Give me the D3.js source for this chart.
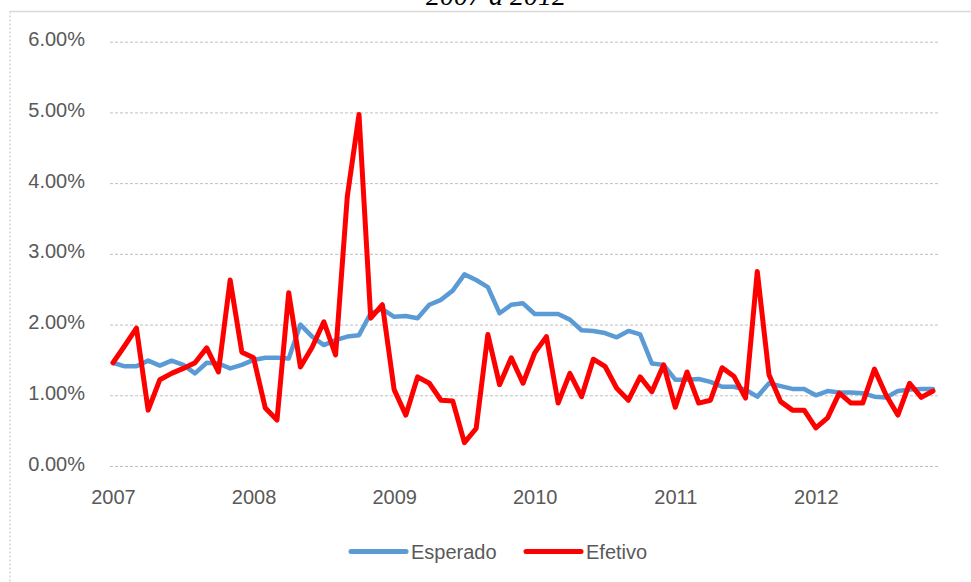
<!DOCTYPE html>
<html>
<head>
<meta charset="utf-8">
<script src="https://cdn.jsdelivr.net/npm/d3@7"></script>
<style>
  html, body { margin: 0; padding: 0; background: #fff; }
  svg { display: block; }
</style>
</head>
<body>
<svg id="chart" width="971" height="582"></svg>
<script>
// ---- data ----
const years = ["2007", "2008", "2009", "2010", "2011", "2012"];
const monthsPerYear = 12;
const pointCount = 71; // Jan 2007 .. Nov 2012
const categories = [];
for (let i = 0; i < pointCount; i++) {
  categories.push(years[Math.floor(i / monthsPerYear)] + "-" + String(i % monthsPerYear + 1).padStart(2, "0"));
}
const esperado = [
  1.46, 1.41, 1.41, 1.49, 1.42, 1.49, 1.43, 1.31, 1.46, 1.45, 1.38, 1.43,
  1.50, 1.53, 1.53, 1.52, 2.00, 1.83, 1.71, 1.78, 1.83, 1.85, 2.16, 2.22,
  2.11, 2.12, 2.09, 2.28, 2.35, 2.48, 2.71, 2.63, 2.53, 2.16, 2.28, 2.30,
  2.15, 2.15, 2.15, 2.07, 1.92, 1.91, 1.88, 1.82, 1.91, 1.86, 1.45, 1.43,
  1.22, 1.22, 1.23, 1.19, 1.12, 1.12, 1.08, 0.98, 1.17, 1.13, 1.09, 1.09,
  1.00, 1.06, 1.04, 1.04, 1.03, 0.98, 0.97, 1.06, 1.08, 1.09, 1.09
];
const efetivo = [
  1.46, 1.70, 1.95, 0.79, 1.22, 1.31, 1.38, 1.46, 1.67, 1.33, 2.63, 1.61,
  1.53, 0.82, 0.65, 2.45, 1.40, 1.68, 2.04, 1.57, 3.81, 4.97, 2.09, 2.28,
  1.08, 0.72, 1.26, 1.17, 0.93, 0.92, 0.33, 0.53, 1.86, 1.15, 1.53, 1.17,
  1.60, 1.83, 0.89, 1.31, 0.98, 1.51, 1.41, 1.10, 0.93, 1.26, 1.05, 1.43,
  0.83, 1.33, 0.89, 0.93, 1.39, 1.27, 0.96, 2.75, 1.29, 0.91, 0.79, 0.79,
  0.54, 0.68, 1.03, 0.89, 0.89, 1.37, 1.00, 0.72, 1.17, 0.97, 1.06
];
const yTicks = [0, 1, 2, 3, 4, 5, 6];
const seriesNames = ["Esperado", "Efetivo"];
const seriesColors = ["#5b9bd5", "#ff0000"];
const titleText = "2007 a 2012";

// ---- chart ----
const svg = d3.select("#chart");
const x = d3.scalePoint().domain(categories).range([113, 933]);
const y = d3.scaleLinear().domain([0, 6]).range([466, 41.7]);
const font = "'Liberation Sans', Arial, sans-serif";

// frame
svg.append("line").attr("x1", 10).attr("x2", 971).attr("y1", 11.5).attr("y2", 11.5)
  .attr("stroke", "#d9d9d9").attr("stroke-width", 1.5);
svg.append("line").attr("x1", 10).attr("x2", 10).attr("y1", 11.5).attr("y2", 582)
  .attr("stroke", "#bfbfbf").attr("stroke-width", 1).attr("stroke-dasharray", "2,2");

// title (cut off at top, as in the source)
svg.append("text").attr("x", 496).attr("y", 5).attr("text-anchor", "middle")
  .attr("font-family", "'Liberation Serif', 'DejaVu Serif', serif")
  .attr("font-style", "italic").attr("font-size", 28).attr("fill", "#000")
  .text(titleText);

// y grid + labels
const yAxis = d3.axisLeft(y).tickValues(yTicks)
  .tickSize(-(938 - 110)).tickPadding(25)
  .tickFormat(d => d3.format(".2f")(d) + "%");
const gy = svg.append("g").attr("transform", "translate(110,0)").call(yAxis);
gy.select(".domain").remove();
gy.selectAll(".tick line").attr("stroke", "#bfbfbf").attr("stroke-dasharray", "3,2");
gy.selectAll(".tick text").attr("font-family", font).attr("font-size", 20)
  .attr("fill", "#595959").attr("dy", "0.2em");

// x axis labels
const xAxis = d3.axisBottom(x)
  .tickValues(categories.filter((c, i) => i % monthsPerYear === 0))
  .tickSize(0).tickPadding(0)
  .tickFormat(c => c.slice(0, 4));
const gx = svg.append("g").attr("transform", "translate(0,466)").call(xAxis);
gx.select(".domain").remove();
gx.selectAll(".tick text").attr("font-family", font).attr("font-size", 20)
  .attr("fill", "#595959").attr("dy", "1.9em");

// lines
const line = d3.line().x((d, i) => x(categories[i])).y(d => y(d));
[esperado, efetivo].forEach((s, k) => {
  svg.append("path").datum(s).attr("d", line)
    .attr("fill", "none").attr("stroke", seriesColors[k])
    .attr("stroke-width", k === 0 ? 4.5 : 5)
    .attr("stroke-linejoin", "round").attr("stroke-linecap", "round");
});

// legend
const legendX = [351, 526];
seriesNames.forEach((name, k) => {
  const g = svg.append("g").attr("transform", `translate(${legendX[k]},551.5)`);
  g.append("line").attr("x1", 0).attr("x2", 55).attr("y1", 0).attr("y2", 0)
    .attr("stroke", seriesColors[k]).attr("stroke-width", 5).attr("stroke-linecap", "round");
  g.append("text").attr("x", 60).attr("y", 0).attr("dy", "0.35em")
    .attr("font-family", font).attr("font-size", 20).attr("fill", "#595959").text(name);
});
</script>
</body>
</html>
